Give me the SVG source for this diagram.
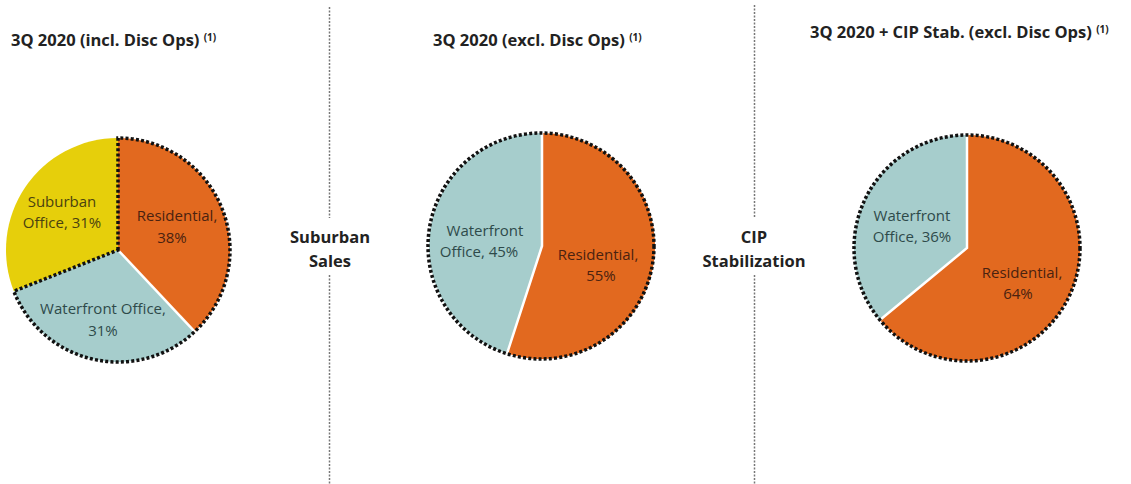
<svg xmlns="http://www.w3.org/2000/svg" width="1131" height="484" viewBox="0 0 1131 484">
<style>
.title{font-family:"Open Sans","Liberation Sans",sans-serif;font-weight:bold;font-size:16.5px;fill:#222}
.sup{font-family:"Open Sans","Liberation Sans",sans-serif;font-weight:bold;font-size:10px;fill:#222}
.mid{font-family:"Open Sans","Liberation Sans",sans-serif;font-weight:bold;font-size:16.5px;fill:#222;text-anchor:middle}
.lbl{font-family:"Open Sans","Liberation Sans",sans-serif;font-size:15px;text-anchor:middle}
.res{fill:#E2691F}
.wat{fill:#A6CDCC}
.sub{fill:#E6CF0B}
.sep{stroke:#fff;stroke-width:2.5;fill:none}
.dot{stroke:#111;stroke-width:3.5;stroke-dasharray:3 2.2;fill:none}
.div{stroke:#777;stroke-width:1.5;stroke-dasharray:2 1.5;fill:none}
.tres{fill:#4A2210}
.twat{fill:#2E4A4A}
.tsub{fill:#4A4210}
</style>
<g id="connectors">
<line class="div" x1="329.5" y1="7" x2="329.5" y2="218"/>
<line class="div" x1="329.5" y1="275" x2="329.5" y2="484"/>
<line class="div" x1="754.5" y1="5" x2="754.5" y2="218"/>
<line class="div" x1="754.5" y1="275" x2="754.5" y2="484"/>
</g>
<g id="title1">
<text class="title" x="11" y="46">3Q 2020 (incl. Disc Ops) <tspan class="sup" dy="-5">(1)</tspan></text>
</g>
<g id="title2">
<text class="title" x="433" y="46">3Q 2020 (excl. Disc Ops) <tspan class="sup" dy="-5">(1)</tspan></text>
</g>
<g id="title3">
<text class="title" x="810" y="38">3Q 2020 + CIP Stab. (excl. Disc Ops) <tspan class="sup" dy="-5">(1)</tspan></text>
</g>
<g id="label-suburban-sales">
<text class="mid" x="330" y="243">Suburban</text>
<text class="mid" x="330" y="267">Sales</text>
</g>
<g id="label-cip">
<text class="mid" x="754" y="243">CIP</text>
<text class="mid" x="754" y="267">Stabilization</text>
</g>
<g id="pie1">
<path class="res" d="M118,250 L118,138 A112,112 0 0 1 194.67,331.65 Z"/>
<path class="wat" d="M118,250 L194.67,331.65 A112,112 0 0 1 13.86,291.23 Z"/>
<path class="sub" d="M118,250 L13.86,291.23 A112,112 0 0 1 118,138 Z"/>
<line class="sep" x1="118" y1="250" x2="194.67" y2="331.65"/>
<path class="dot" d="M118,250 L118,138 A112,112 0 1 1 13.86,291.23 Z"/>
<text class="lbl tsub" x="62" y="207">Suburban</text>
<text class="lbl tsub" x="62" y="228">Office, 31%</text>
<text class="lbl tres" x="177" y="221">Residential,</text>
<text class="lbl tres" x="172" y="243">38%</text>
<text class="lbl twat" x="103" y="314">Waterfront Office,</text>
<text class="lbl twat" x="103" y="336">31%</text>
</g>
<g id="pie2">
<path class="res" d="M542,246 L542,133 A113,113 0 1 1 507.08,353.47 Z"/>
<path class="wat" d="M542,246 L507.08,353.47 A113,113 0 0 1 542,133 Z"/>
<path class="sep" d="M542,133 L542,246 L507.08,353.47"/>
<circle class="dot" cx="541" cy="246" r="113"/>
<text class="lbl twat" x="485" y="236">Waterfront</text>
<text class="lbl twat" x="479" y="257">Office, 45%</text>
<text class="lbl tres" x="598" y="260">Residential,</text>
<text class="lbl tres" x="601" y="281">55%</text>
</g>
<g id="pie3">
<path class="res" d="M967,248 L967,135 A113,113 0 1 1 879.93,320.03 Z"/>
<path class="wat" d="M967,248 L879.93,320.03 A113,113 0 0 1 967,135 Z"/>
<path class="sep" d="M967,135 L967,248 L879.93,320.03"/>
<circle class="dot" cx="967" cy="248" r="113"/>
<text class="lbl twat" x="912" y="221">Waterfront</text>
<text class="lbl twat" x="912" y="242">Office, 36%</text>
<text class="lbl tres" x="1022" y="278">Residential,</text>
<text class="lbl tres" x="1018" y="299">64%</text>
</g>
</svg>
